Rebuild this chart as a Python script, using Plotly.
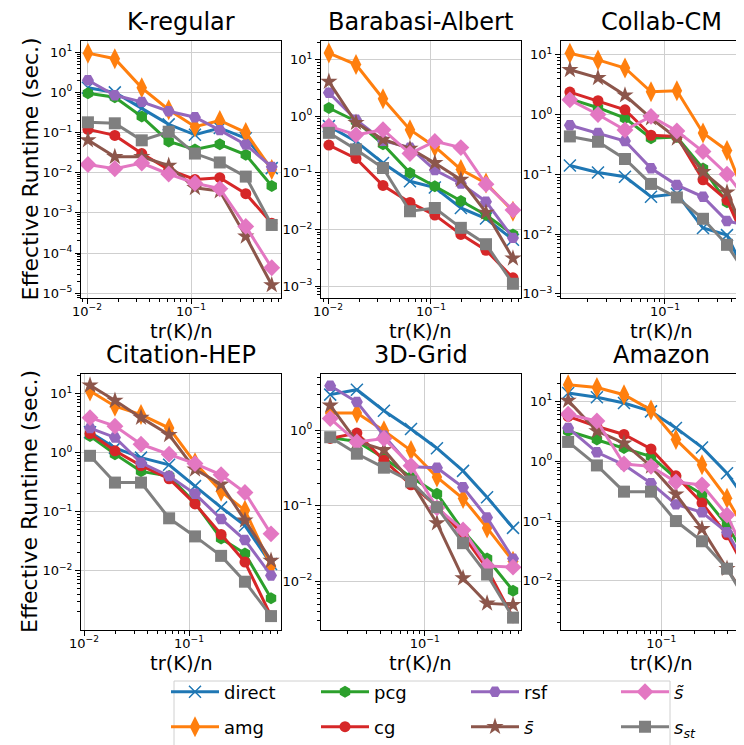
import math
import plotly.graph_objects as go

# ---------------- data ----------------
series_names = ["direct", "amg", "pcg", "cg", "rsf", "s_bar", "s_tilde", "s_st"]
legend_labels = ["direct", "amg", "pcg", "cg", "rsf",
                 "<i>s\u0304</i>", "<i>s\u0303</i>", "<i>s</i><sub><i>st</i></sub>"]
legend_row = ["legend", "legend2", "legend", "legend2", "legend", "legend2", "legend", "legend2"]
legend_ranks = [1, 1, 2, 2, 3, 3, 4, 4]
colors = ["#1f77b4", "#ff7f0e", "#2ca02c", "#d62728", "#9467bd", "#8c564b", "#e377c2", "#7f7f7f"]
symbols = ["x-thin", "diamond-tall", "hexagon", "circle", "hexagon2", "star", "diamond", "square"]
marker_sizes = [12, 15, 12, 11, 12, 13, 13, 12]

panel_titles = ["K-regular", "Barabasi-Albert", "Collab-CM", "Citation-HEP", "3D-Grid", "Amazon"]

# K-regular
kreg_x = [0.0102, 0.0185, 0.0336, 0.061, 0.109, 0.189, 0.336, 0.597]
kreg_direct = [1.3, 1.0, 0.4, 0.16, 0.088, 0.13, 0.072, 0.013]
kreg_amg = [9.5, 6.9, 1.3, 0.37, 0.14, 0.2, 0.1, 0.012]
kreg_pcg = [0.95, 0.76, 0.25, 0.06, 0.038, 0.051, 0.028, 0.0047]
kreg_cg = [0.12, 0.085, 0.03, 0.012, 0.0068, 0.0075, 0.003, 0.00055]
kreg_rsf = [2.0, 0.85, 0.58, 0.34, 0.24, 0.115, 0.05, 0.014]
kreg_sbar = [0.065, 0.025, 0.025, 0.015, 0.0042, 0.0035, 0.00026, 0.000016]
kreg_stilde = [0.016, 0.0126, 0.0174, 0.0093, 0.0055, 0.004, 0.00046, 0.000043]
kreg_sst = [0.18, 0.17, 0.064, 0.105, 0.03, 0.018, 0.008, 0.0005]

# Barabasi-Albert
ba_x = [0.0102, 0.0187, 0.0342, 0.0625, 0.109, 0.195, 0.342, 0.625]
ba_direct = [0.67, 0.36, 0.15, 0.071, 0.055, 0.024, 0.0156, 0.0066]
ba_amg = [13.1, 8.2, 2.04, 0.58, 0.29, 0.115, 0.066, 0.021]
ba_pcg = [1.4, 0.82, 0.32, 0.10, 0.058, 0.032, 0.018, 0.0082]
ba_cg = [0.31, 0.18, 0.06, 0.03, 0.018, 0.0082, 0.0043, 0.0014]
ba_rsf = [2.6, 0.87, 0.37, 0.28, 0.112, 0.065, 0.031, 0.0071]
ba_sbar = [4.1, 0.77, 0.39, 0.27, 0.15, 0.076, 0.02, 0.0031]
ba_stilde = [0.67, 0.47, 0.58, 0.22, 0.36, 0.28, 0.063, 0.022]
ba_sst = [0.51, 0.26, 0.122, 0.021, 0.024, 0.0107, 0.0055, 0.0011]

# Collab-CM
cc_x = [0.0139, 0.0249, 0.0436, 0.0748, 0.128, 0.22, 0.362, 0.621]
cc_direct = [0.14, 0.107, 0.091, 0.042, 0.047, 0.0126, 0.0096, 0.0012]
cc_amg = [10.6, 8.2, 6.0, 2.4, 2.5, 0.49, 0.25, 0.02]
cc_pcg = [1.83, 1.3, 0.87, 0.40, 0.42, 0.125, 0.034, 0.0074]
cc_cg = [2.37, 1.7, 1.2, 0.45, 0.43, 0.081, 0.037, 0.0039]
cc_rsf = [0.66, 0.49, 0.36, 0.126, 0.066, 0.042, 0.0165, 0.0132]
cc_sbar = [5.6, 4.1, 2.1, 0.87, 0.4, 0.11, 0.05, 0.005]
cc_stilde = [1.76, 1.0, 0.55, 0.93, 0.53, 0.24, 0.1, 0.027]
cc_sst = [0.43, 0.35, 0.18, 0.069, 0.041, 0.018, 0.0066, 0.0014]

# Citation-HEP
ch_x = [0.0114, 0.0197, 0.0349, 0.0646, 0.114, 0.202, 0.341, 0.604]
ch_direct = [2.2, 1.2, 0.82, 0.62, 0.27, 0.118, 0.058, 0.013]
ch_amg = [11.0, 6.1, 4.4, 2.6, 0.67, 0.22, 0.105, 0.012]
ch_pcg = [1.9, 0.94, 0.48, 0.4, 0.14, 0.035, 0.0195, 0.0034]
ch_cg = [2.1, 1.07, 0.6, 0.36, 0.135, 0.041, 0.014, 0.0017]
ch_rsf = [2.6, 1.8, 0.67, 0.4, 0.2, 0.075, 0.033, 0.0083]
ch_sbar = [13.8, 7.6, 3.9, 2.0, 0.52, 0.29, 0.071, 0.0148]
ch_stilde = [3.9, 2.8, 1.38, 0.94, 0.65, 0.42, 0.21, 0.042]
ch_sst = [0.88, 0.31, 0.31, 0.077, 0.038, 0.0178, 0.0065, 0.0017]

# 3D-Grid
g3_x = [0.014, 0.0244, 0.0428, 0.0752, 0.129, 0.222, 0.366, 0.628]
g3_direct = [2.97, 3.45, 1.82, 1.04, 0.58, 0.29, 0.13, 0.051]
g3_amg = [1.7, 1.7, 0.99, 0.54, 0.24, 0.125, 0.051, 0.0184]
g3_pcg = [0.8, 0.71, 0.43, 0.24, 0.145, 0.047, 0.02, 0.0075]
g3_cg = [0.78, 0.92, 0.4, 0.19, 0.098, 0.041, 0.0147, 0.0033]
g3_rsf = [3.9, 2.37, 0.85, 0.33, 0.32, 0.176, 0.07, 0.02]
g3_sbar = [2.14, 0.71, 0.55, 0.21, 0.059, 0.011, 0.0051, 0.0049]
g3_stilde = [1.43, 0.7, 0.78, 0.34, 0.094, 0.048, 0.016, 0.0154]
g3_sst = [0.81, 0.49, 0.32, 0.21, 0.096, 0.032, 0.0123, 0.0033]

# Amazon
am_x = [0.0144, 0.0262, 0.046, 0.0807, 0.1355, 0.233, 0.392, 0.673]
am_direct = [13.8, 11.7, 9.4, 6.8, 3.6, 1.7, 0.63, 0.152]
am_amg = [19.0, 17.0, 12.9, 7.2, 2.3, 0.87, 0.24, 0.042]
am_pcg = [3.2, 2.3, 1.66, 1.2, 0.52, 0.28, 0.085, 0.016]
am_cg = [5.6, 3.8, 2.8, 1.6, 0.57, 0.2, 0.059, 0.0092]
am_rsf = [3.6, 1.41, 0.87, 0.43, 0.19, 0.14, 0.065, 0.0117]
am_sbar = [10.3, 3.2, 2.0, 0.82, 0.28, 0.074, 0.016, 0.0035]
am_stilde = [6.1, 4.7, 0.9, 0.82, 0.45, 0.4, 0.126, 0.015]
am_sst = [2.1, 0.85, 0.31, 0.31, 0.1, 0.046, 0.016, 0.003]

panels = [
    (kreg_x, [kreg_direct, kreg_amg, kreg_pcg, kreg_cg, kreg_rsf, kreg_sbar, kreg_stilde, kreg_sst]),
    (ba_x, [ba_direct, ba_amg, ba_pcg, ba_cg, ba_rsf, ba_sbar, ba_stilde, ba_sst]),
    (cc_x, [cc_direct, cc_amg, cc_pcg, cc_cg, cc_rsf, cc_sbar, cc_stilde, cc_sst]),
    (ch_x, [ch_direct, ch_amg, ch_pcg, ch_cg, ch_rsf, ch_sbar, ch_stilde, ch_sst]),
    (g3_x, [g3_direct, g3_amg, g3_pcg, g3_cg, g3_rsf, g3_sbar, g3_stilde, g3_sst]),
    (am_x, [am_direct, am_amg, am_pcg, am_cg, am_rsf, am_sbar, am_stilde, am_sst]),
]

# axis tick labels
x_ticks = [[0.01, 0.1], [0.01, 0.1], [0.1], [0.01, 0.1], [0.1], [0.1]]
y_ticks = [
    [1e1, 1e0, 1e-1, 1e-2, 1e-3, 1e-4, 1e-5],
    [1e1, 1e0, 1e-1, 1e-2, 1e-3],
    [1e1, 1e0, 1e-1, 1e-2, 1e-3],
    [1e1, 1e0, 1e-1, 1e-2],
    [1e0, 1e-1, 1e-2],
    [1e1, 1e0, 1e-1, 1e-2],
]
x_label = "tr(K)/n"
y_label = "Effective Runtime (sec.)"

# ---------------- layout geometry (pixels) ----------------
W, H = 744, 745
col_px = [(73, 273), (313, 513), (553, 744)]
row_px = [(33, 290), (366, 622)]
x_ranges = [(-2.058, -0.135), (-2.068, -0.126), (-1.937, -0.216),
            (-2.029, -0.124), (-1.937, -0.13), (-1.906, -0.181)]
y_ranges = [(-5.12, 1.28), (-3.21, 1.33), (-3.07, 1.23),
            (-3.005, 1.33), (-2.645, 0.746), (-2.82, 1.457)]

FONT = "DejaVu Sans"


def tick_text(v):
    e = int(round(math.log10(v)))
    return "10<sup>" + str(e).replace("-", "\u2212") + "</sup>"


minor_vals = [m * 10.0 ** k for k in range(-7, 3) for m in range(2, 10)]

fig = go.Figure()
layout = dict()
annotations = []

for p, (xs, ys_list) in enumerate(panels):
    r, c = divmod(p, 3)
    ax = "" if p == 0 else str(p + 1)
    xa, ya = "x" + ax, "y" + ax
    for i in range(8):
        fig.add_trace(go.Scatter(
            x=xs, y=ys_list[i], xaxis=xa, yaxis=ya,
            mode="lines+markers", name=legend_labels[i],
            legendgroup=series_names[i], showlegend=(p == 0),
            legend=legend_row[i], legendrank=legend_ranks[i],
            line=dict(color=colors[i], width=3),
            marker=dict(symbol=symbols[i], size=marker_sizes[i], color=colors[i],
                        line=dict(color=colors[i], width=1.5 if i == 0 else 0)),
        ))
    x0, x1 = col_px[c]
    y0, y1 = row_px[r]
    common = dict(type="log", showline=True, linecolor="black", linewidth=1,
                  ticks="outside", ticklen=5, tickwidth=1, tickcolor="black",
                  showgrid=True, gridcolor="#cfcfcf", gridwidth=1, zeroline=False,
                  tickfont=dict(family=FONT, size=13, color="black"),
                  minor=dict(tickmode="array", tickvals=minor_vals, ticks="outside",
                             ticklen=3, tickwidth=0.8, tickcolor="black", showgrid=False))
    layout["xaxis" + ax] = dict(common, domain=[x0 / W, x1 / W], range=list(x_ranges[p]),
                                anchor=ya, mirror=True, ticklabelstandoff=-4,
                                tickmode="array", tickvals=x_ticks[p],
                                ticktext=[tick_text(v) for v in x_ticks[p]])
    layout["yaxis" + ax] = dict(common, domain=[1 - y1 / H, 1 - y0 / H], range=list(y_ranges[p]),
                                anchor=xa, mirror=(c != 2),
                                tickmode="array", tickvals=y_ticks[p],
                                ticktext=[tick_text(v) for v in y_ticks[p]])
    cx = (x0 + 100) / W
    annotations.append(dict(text=panel_titles[p], xref="paper", yref="paper",
                            x=cx, y=1 - (y0 - 19) / H, xanchor="center", yanchor="middle",
                            showarrow=False, font=dict(family=FONT, size=24, color="black")))
    annotations.append(dict(text=x_label, xref="paper", yref="paper",
                            x=cx, y=1 - (y1 + 33) / H, xanchor="center", yanchor="middle",
                            showarrow=False, font=dict(family=FONT, size=19.5, color="black")))
    if c == 0:
        annotations.append(dict(text=y_label, xref="paper", yref="paper",
                                x=22 / W, y=1 - ((y0 + y1) / 2) / H, xanchor="center", yanchor="middle",
                                textangle=-90, showarrow=False,
                                font=dict(family=FONT, size=22, color="black")))

leg_common = dict(orientation="h", xanchor="left", yanchor="middle",
                  bgcolor="rgba(0,0,0,0)", borderwidth=0,
                  font=dict(family=FONT, size=18, color="black"),
                  itemwidth=48, entrywidth=87, entrywidthmode="pixels", traceorder="normal")

fig.update_layout(
    width=W, height=H, autosize=False,
    margin=dict(l=0, r=0, t=0, b=0, autoexpand=False),
    paper_bgcolor="white", plot_bgcolor="white",
    font=dict(family=FONT, color="black"),
    annotations=annotations,
    legend=dict(leg_common, x=158 / W, y=1 - 684 / H),
    legend2=dict(leg_common, x=158 / W, y=1 - 719 / H),
    shapes=[dict(type="rect", xref="paper", yref="paper",
                 x0=166 / W, x1=662 / W, y0=1 - 743 / H, y1=1 - 673 / H,
                 line=dict(color="#d0d0d0", width=1), layer="below")],
    **layout,
)

fig.write_html("out.html", config={"displayModeBar": False})
